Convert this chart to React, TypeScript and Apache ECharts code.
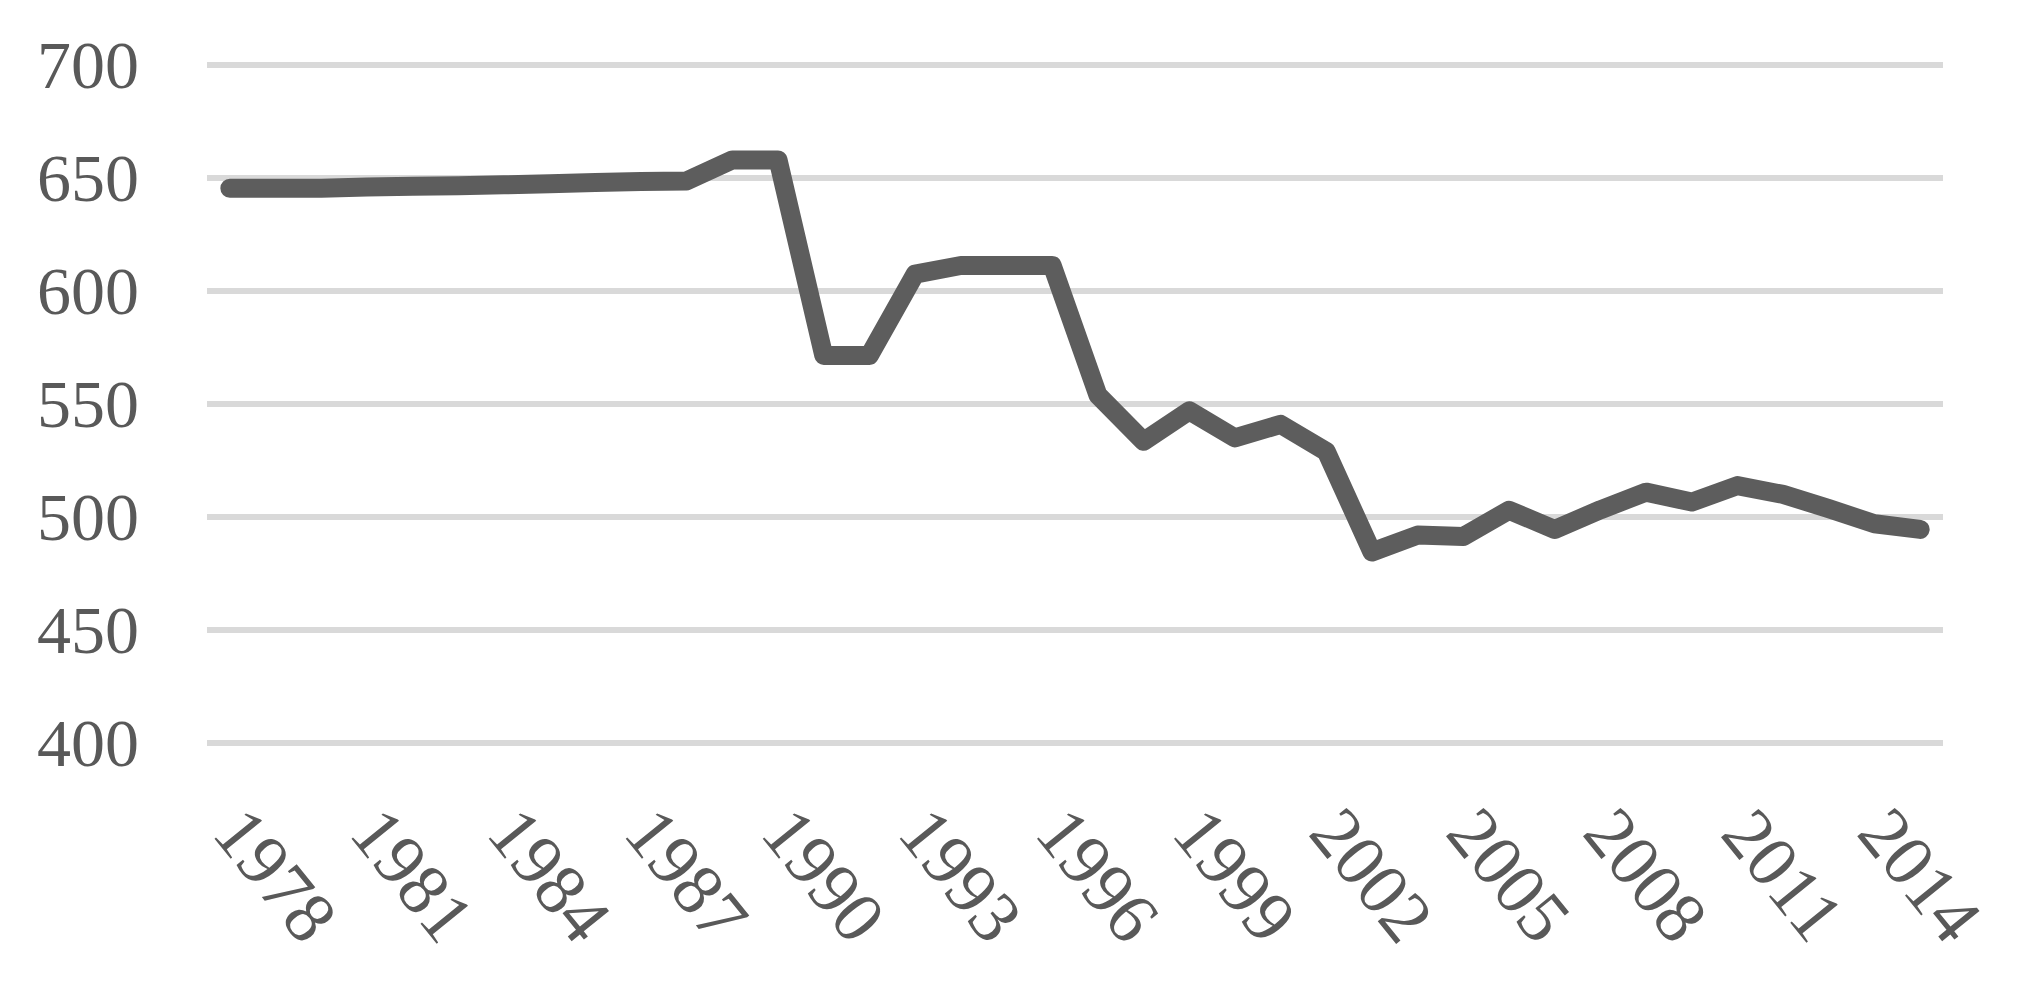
import React, { useEffect, useRef } from "react";
import * as echarts from "echarts";

const years: string[] = [
  "1977", "1978", "1979", "1980", "1981", "1982", "1983", "1984", "1985", "1986",
  "1987", "1988", "1989", "1990", "1991", "1992", "1993", "1994", "1995", "1996",
  "1997", "1998", "1999", "2000", "2001", "2002", "2003", "2004", "2005", "2006",
  "2007", "2008", "2009", "2010", "2011", "2012", "2013", "2014",
];

const values: number[] = [
  645.5, 645.5, 645.5, 646, 646.3, 646.6, 647, 647.5, 648, 648.5,
  648.7, 658, 658, 571.5, 571.5, 607.5, 611.3, 611.3, 611.3, 554,
  533.5, 547, 535, 541, 529, 484.5, 492, 491.4, 503, 494.5,
  503.2, 511, 506.6, 513.9, 510, 503.7, 497, 494.5,
];

const yTicks = { min: 400, max: 700, interval: 50 };
const labelStartYear = 1978;
const labelStep = 3;

export default function App() {
  const ref = useRef<HTMLDivElement>(null);
  useEffect(() => {
    if (!ref.current) return;
    const chart = echarts.init(ref.current, null, { renderer: "svg" });
    const font = "'Liberation Serif', 'Times New Roman', serif";
    chart.setOption({
      animation: false,
      backgroundColor: "#ffffff",
      grid: { left: 207, right: 81, top: 65, bottom: 239 },
      xAxis: {
        type: "category",
        data: years,
        boundaryGap: true,
        axisLine: { show: false },
        axisTick: { show: false },
        splitLine: { show: false },
        axisLabel: {
          interval: (_i: number, v: string) => (Number(v) - labelStartYear) % labelStep === 0,
          rotate: -51,
          align: "center",
          verticalAlign: "middle",
          margin: 132,
          color: "#595959",
          fontFamily: font,
          fontSize: 73,
        },
      },
      yAxis: {
        type: "value",
        min: yTicks.min,
        max: yTicks.max,
        interval: yTicks.interval,
        axisLine: { show: false },
        axisTick: { show: false },
        axisLabel: {
          color: "#595959",
          fontFamily: font,
          fontSize: 68,
          margin: 68,
        },
        splitLine: { lineStyle: { color: "#d9d9d9", width: 6 } },
      },
      series: [
        {
          type: "line",
          data: values,
          showSymbol: false,
          symbol: "none",
          lineStyle: { color: "#5d5d5d", width: 19, cap: "round", join: "round" },
        },
      ],
    });
    return () => chart.dispose();
  }, []);
  return (
    <div
      ref={ref}
      style={{ position: "fixed", left: 0, top: 0, width: 2024, height: 982, background: "#fff" }}
    />
  );
}
